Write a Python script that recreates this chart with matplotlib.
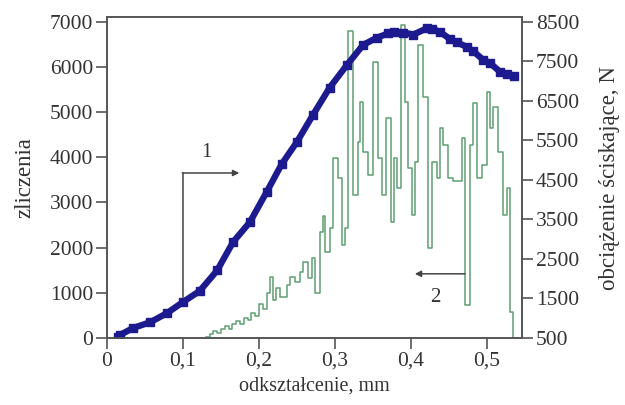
import matplotlib
matplotlib.use("Agg")
import matplotlib.pyplot as plt

# ---- data ----
# curve 2: acoustic emission counts (left axis), step series
counts_x = [0.130, 0.135, 0.140, 0.145, 0.150, 0.155, 0.160, 0.165, 0.170, 0.175,
            0.180, 0.185, 0.190, 0.195, 0.200, 0.205, 0.210, 0.214, 0.218, 0.222,
            0.228, 0.237, 0.241, 0.247, 0.254, 0.258, 0.264, 0.270, 0.274, 0.280,
            0.284, 0.287, 0.293, 0.297, 0.304, 0.309, 0.313, 0.317, 0.324, 0.330,
            0.333, 0.337, 0.343, 0.350, 0.357, 0.362, 0.367, 0.373, 0.378, 0.381,
            0.387, 0.392, 0.396, 0.401, 0.405, 0.409, 0.416, 0.422, 0.428, 0.434,
            0.438, 0.442, 0.449, 0.455, 0.467, 0.471, 0.478, 0.482, 0.487, 0.493,
            0.500, 0.504, 0.508, 0.514, 0.521, 0.526, 0.530, 0.534, 0.537]
counts = [30, 80, 150, 110, 200, 260, 200, 320, 380, 300,
          450, 400, 550, 480, 750, 650, 1000, 1350, 850, 1100,
          900, 1170, 1350, 1240, 1460, 1680, 1330, 1770, 1000, 2350,
          2700, 1900, 2440, 3990, 3540, 2060, 2440, 6780, 3170, 4340,
          5230, 4120, 3610, 6110, 3990, 3170, 4870, 2570, 3990, 3320,
          6930, 5230, 3770, 2720, 3900, 6490, 5320, 2000, 3900, 3540,
          4650, 4280, 3540, 3470, 4430, 730, 4280, 5200, 3540, 3830,
          5450, 4650, 5100, 4120, 2720, 3320, 580, 0, 0]

# curve 1: compressive load (right axis)
load_x = [0.015, 0.017, 0.034, 0.057, 0.079, 0.100, 0.122, 0.145, 0.166, 0.188,
          0.210, 0.230, 0.250, 0.271, 0.293, 0.316, 0.337, 0.355, 0.370, 0.377,
          0.390, 0.403, 0.421, 0.428, 0.438, 0.451, 0.460, 0.473, 0.482, 0.495,
          0.504, 0.517, 0.526, 0.535]
load = [520, 575, 750, 900, 1130, 1410, 1690, 2210, 2930, 3430,
        4190, 4900, 5460, 6140, 6830, 7410, 7910, 8090, 8200, 8240,
        8220, 8170, 8330, 8310, 8240, 8060, 7980, 7860, 7750, 7530,
        7450, 7230, 7180, 7120]

x_ticks = [0, 0.1, 0.2, 0.3, 0.4, 0.5]
x_ticklabels = ["0", "0,1", "0,2", "0,3", "0,4", "0,5"]
left_ticks = [0, 1000, 2000, 3000, 4000, 5000, 6000, 7000]
right_ticks = [500, 1500, 2500, 3500, 4500, 5500, 6500, 7500, 8500]

# ---- style ----
plt.rcParams['font.family'] = ['Liberation Serif', 'DejaVu Serif']
txt = '#333333'
spine_c = '#555555'

fig = plt.figure(figsize=(6.25, 4.05), dpi=100)
ax = fig.add_axes([0.1712, 0.1654, 0.664, 0.7926])
ax2 = ax.twinx()

ax.step(counts_x, counts, where='post', color='#5f9f72', lw=1.1)
ax2.plot(load_x, load, color='#1c1a8e', lw=4.6, marker='s', ms=5.2,
         solid_joinstyle='miter')

ax.set_xlim(0, 0.546)
ax.set_ylim(0, 7100)
ax2.set_ylim(500, 500 + 7100 * 8000 / 7000)

ax.set_xticks(x_ticks)
ax.set_xticklabels(x_ticklabels)
ax.set_yticks(left_ticks)
ax2.set_yticks(right_ticks)

for a in (ax, ax2):
    for s in a.spines.values():
        s.set_color(spine_c)
        s.set_linewidth(1.2)
    a.tick_params(direction='out', length=8, width=1.2, colors=spine_c,
                  labelcolor=txt, labelsize=15.5, pad=2)

ax.set_xlabel("odkształcenie, mm", fontsize=14.5, color=txt, labelpad=4)
ax.set_ylabel("zliczenia", fontsize=16.5, color=txt, labelpad=10)
ax2.set_ylabel("obciążenie ściskające, N", fontsize=16.5, color=txt, labelpad=14)

# annotation 1 (points to the right axis)
ax.plot([0.100, 0.100], [900, 3650], color='#444444', lw=1.1)
ax.annotate("", xy=(0.174, 3650), xytext=(0.099, 3650),
            arrowprops=dict(arrowstyle='-|>', color='#444444', lw=1.1,
                            mutation_scale=9, shrinkA=0, shrinkB=0))
ax.text(0.131, 3900, "1", fontsize=15, color=txt, ha='center', va='bottom')

# annotation 2 (points to the left axis)
ax.annotate("", xy=(0.405, 1420), xytext=(0.471, 1420),
            arrowprops=dict(arrowstyle='-|>', color='#444444', lw=1.1,
                            mutation_scale=9, shrinkA=0, shrinkB=0))
ax.text(0.432, 1100, "2", fontsize=15, color=txt, ha='center', va='top')

fig.savefig("out.png", dpi=100)
